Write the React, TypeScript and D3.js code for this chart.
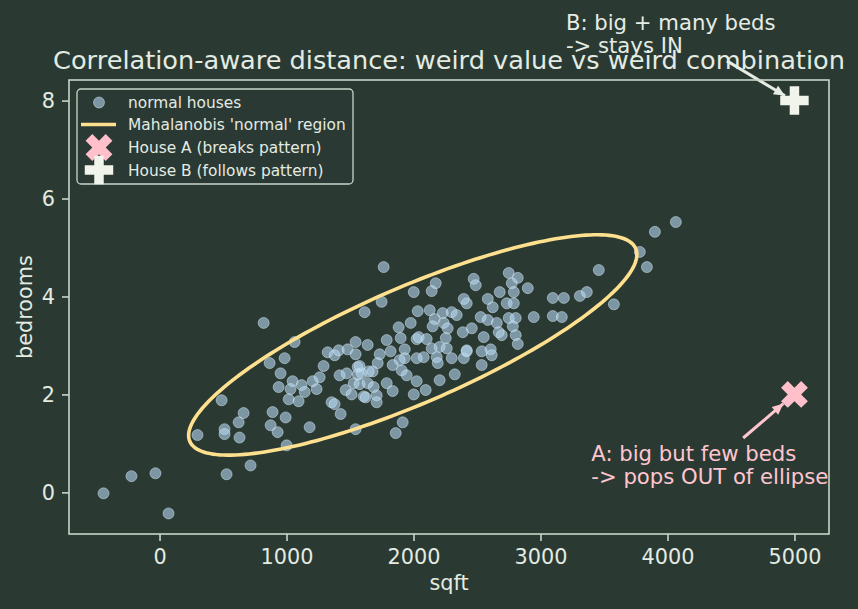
import { useEffect, useRef } from "react";
import * as d3 from "d3";

// normal houses: [sqft, bedrooms]
const normalHouses: [number, number][] = [
  [-441, -0.02], [-221, 0.33], [-32, 0.39], [71, -0.43], [528, 0.37], [717, 0.55], [299, 1.17], [489, 1.88],
  [512, 1.29], [512, 1.19], [630, 1.12], [623, 1.43], [662, 1.62], [820, 3.46], [867, 2.64], [985, 2.74],
  [953, 2.43], [938, 2.15], [1048, 2.27], [1032, 2.11], [1119, 2.19], [1143, 2.05], [1017, 1.9], [1095, 1.86],
  [1237, 2.11], [1206, 2.27], [1261, 2.35], [1292, 2.58], [1324, 2.86], [1064, 3.07], [890, 1.64], [993, 1.53],
  [875, 1.37], [930, 1.23], [1182, 1.33], [1001, 0.96], [1379, 2.8], [1411, 2.9], [1481, 2.92], [1544, 3.07],
  [1544, 2.82], [1615, 3.68], [1639, 3.01], [1418, 2.39], [1474, 2.43], [1560, 2.56], [1592, 2.43], [1529, 2.23],
  [1576, 2.21], [1466, 2.09], [1513, 2.0], [1608, 1.96], [1355, 1.84], [1379, 1.8], [1426, 1.6], [1544, 1.29],
  [1749, 3.89], [1765, 4.6], [2033, 3.7], [2128, 3.72], [2230, 3.66], [2301, 3.68], [2340, 3.62], [2167, 3.54],
  [2238, 3.46], [2269, 3.35], [2151, 3.39], [2388, 3.27], [2419, 3.86], [1883, 3.37], [1978, 3.46], [2025, 3.13],
  [2041, 3.17], [1899, 3.15], [1789, 3.11], [1734, 2.82], [1820, 2.88], [1931, 2.92], [2104, 3.13], [2143, 2.94],
  [2206, 2.97], [2254, 3.15], [2262, 2.94], [2183, 2.76], [2191, 2.64], [2301, 2.74], [2396, 2.74], [2419, 2.9],
  [2080, 2.76], [2025, 2.74], [1931, 2.74], [1891, 2.7], [1836, 2.6], [1907, 2.49], [1946, 2.39], [2025, 2.27],
  [2096, 2.09], [2002, 2.0], [2206, 2.29], [2325, 2.41], [1718, 2.64], [1678, 2.47], [1647, 2.47], [1576, 2.58],
  [1560, 2.41], [1639, 2.23], [1686, 2.15], [1789, 2.23], [1836, 2.07], [1710, 1.98], [1710, 1.84], [1623, 1.94],
  [1915, 1.43], [1860, 1.21], [2002, 4.09], [2175, 4.27], [2143, 4.11], [2474, 4.36], [2490, 4.23], [2396, 3.95],
  [2750, 4.48], [2821, 4.38], [2774, 4.27], [2790, 4.09], [2679, 4.09], [2585, 3.95], [2734, 3.86], [2790, 3.86],
  [2624, 3.78], [2529, 3.58], [2585, 3.52], [2656, 3.46], [2750, 3.56], [2805, 3.56], [2782, 3.39], [2805, 3.21],
  [2821, 3.03], [2695, 3.21], [2671, 3.27], [2459, 3.35], [2553, 3.17], [2537, 2.88], [2608, 2.92], [2616, 2.8],
  [2537, 2.6], [2419, 2.88], [2900, 4.17], [2947, 3.58], [3097, 3.97], [3184, 3.97], [3097, 3.6], [3168, 3.58],
  [3310, 4.01], [3365, 4.09], [3459, 4.54], [3578, 3.84], [3782, 4.91], [3838, 4.6], [3901, 5.32], [4066, 5.52],
];

const houseA: [number, number] = [5000, 2];
const houseB: [number, number] = [5000, 8];

// Mahalanobis ellipse: mean, std devs, correlation, radius (sqrt chi2 95%)
const ellipseMean: [number, number] = [1994, 3.01];
const ellipseStd: [number, number] = [721, 0.919];
const ellipseRho = 0.821;
const ellipseK = 2.448;

const xTicks = [0, 1000, 2000, 3000, 4000, 5000];
const yTicks = [0, 2, 4, 6, 8];

const legendLabels = [
  "normal houses",
  "Mahalanobis 'normal' region",
  "House A (breaks pattern)",
  "House B (follows pattern)",
];

const annotations = [
  {
    lines: ["B: big + many beds", "-> stays IN"],
    textAt: [3200, 9.45],
    from: [4468, 8.81],
    to: [4925, 8.1],
    color: "#e6ece4",
  },
  {
    lines: ["A: big but few beds", "-> pops OUT of ellipse"],
    textAt: [3400, 0.65],
    from: [4596, 1.11],
    to: [4912, 1.81],
    color: "#ffc6d0",
  },
];

const BG = "#2a3a33";
const FG = "#e4ebe2";
const SPINE = "#c9d5c9";
const PINK = "#ffc0cb";
const IVORY = "#f1f4ea";
const YELLOW = "#ffe08f";
const FONT = "DejaVu Sans, sans-serif";

export default function App() {
  const svgRef = useRef<SVGSVGElement | null>(null);

  useEffect(() => {
    document.body.style.margin = "0";
    if (!svgRef.current) return;
    const svg = d3.select(svgRef.current);
    svg.selectAll("*").remove();

    const width = 858;
    const height = 609;
    const margin = { top: 80, right: 29, bottom: 75, left: 69 };

    svg.attr("width", width).attr("height", height).style("display", "block");
    svg.append("rect").attr("width", width).attr("height", height).attr("fill", BG);

    const xScale = d3.scaleLinear().domain([-713, 5272]).range([margin.left, width - margin.right]);
    const yScale = d3.scaleLinear().domain([-0.85, 8.42]).range([height - margin.bottom, margin.top]);

    // x axis
    const xAxis = svg
      .append("g")
      .attr("transform", `translate(0, ${height - margin.bottom})`)
      .call(d3.axisBottom(xScale).tickValues(xTicks).tickFormat(d3.format("d")).tickSize(7).tickPadding(8));
    xAxis.select(".domain").remove();
    xAxis.selectAll("line").attr("stroke", SPINE).attr("stroke-width", 1.6);
    xAxis.selectAll("text").attr("fill", FG).style("font-size", "20.8px").style("font-family", FONT);

    // y axis
    const yAxis = svg
      .append("g")
      .attr("transform", `translate(${margin.left}, 0)`)
      .call(d3.axisLeft(yScale).tickValues(yTicks).tickSize(7).tickPadding(7));
    yAxis.select(".domain").remove();
    yAxis.selectAll("line").attr("stroke", SPINE).attr("stroke-width", 1.6);
    yAxis.selectAll("text").attr("fill", FG).style("font-size", "20.8px").style("font-family", FONT);

    // axis labels + title
    svg
      .append("text")
      .attr("x", (margin.left + width - margin.right) / 2)
      .attr("y", 590)
      .attr("text-anchor", "middle")
      .attr("fill", FG)
      .style("font-family", FONT)
      .style("font-size", "20.8px")
      .text("sqft");

    svg
      .append("text")
      .attr("transform", "rotate(-90)")
      .attr("x", -(margin.top + height - margin.bottom) / 2)
      .attr("y", 32)
      .attr("text-anchor", "middle")
      .attr("fill", FG)
      .style("font-family", FONT)
      .style("font-size", "20.8px")
      .text("bedrooms");

    svg
      .append("text")
      .attr("x", (margin.left + width - margin.right) / 2)
      .attr("y", 69)
      .attr("text-anchor", "middle")
      .attr("fill", FG)
      .style("font-family", FONT)
      .style("font-size", "25.6px")
      .text("Correlation-aware distance: weird value vs weird combination");

    // scatter
    svg
      .append("g")
      .selectAll("circle")
      .data(normalHouses)
      .enter()
      .append("circle")
      .attr("cx", (d) => xScale(d[0]))
      .attr("cy", (d) => yScale(d[1]))
      .attr("r", 5.5)
      .attr("fill", "#b4d6ee")
      .attr("fill-opacity", 0.6)
      .attr("stroke", "#e3f1ff")
      .attr("stroke-opacity", 0.45)
      .attr("stroke-width", 1);

    // ellipse from covariance (cholesky)
    const sxx = (ellipseK * ellipseStd[0]) ** 2;
    const syy = (ellipseK * ellipseStd[1]) ** 2;
    const sxy = ellipseK * ellipseK * ellipseRho * ellipseStd[0] * ellipseStd[1];
    const l11 = Math.sqrt(sxx);
    const l21 = sxy / l11;
    const l22 = Math.sqrt(syy - l21 * l21);
    const ellipsePts = d3.range(0, 201).map((i) => {
      const t = (i / 200) * 2 * Math.PI;
      const c = Math.cos(t);
      const s = Math.sin(t);
      return [ellipseMean[0] + l11 * c, ellipseMean[1] + l21 * c + l22 * s] as [number, number];
    });
    svg
      .append("path")
      .datum(ellipsePts)
      .attr("fill", "none")
      .attr("stroke", YELLOW)
      .attr("stroke-width", 3.6)
      .attr(
        "d",
        d3
          .line<[number, number]>()
          .x((d) => xScale(d[0]))
          .y((d) => yScale(d[1]))
          .curve(d3.curveLinearClosed)
      );

    // annotations (arrows + text)
    annotations.forEach((a) => {
      const x1 = xScale(a.from[0]);
      const y1 = yScale(a.from[1]);
      const x2 = xScale(a.to[0]);
      const y2 = yScale(a.to[1]);
      svg
        .append("line")
        .attr("x1", x1)
        .attr("y1", y1)
        .attr("x2", x2)
        .attr("y2", y2)
        .attr("stroke", a.color)
        .attr("stroke-width", 3);
      const ang = Math.atan2(y2 - y1, x2 - x1);
      const hl = 11;
      const hw = 5;
      const bx = x2 - hl * Math.cos(ang);
      const by = y2 - hl * Math.sin(ang);
      svg
        .append("path")
        .attr(
          "d",
          `M${x2},${y2}L${bx - hw * Math.sin(ang)},${by + hw * Math.cos(ang)}L${bx + hw * Math.sin(ang)},${by - hw * Math.cos(ang)}Z`
        )
        .attr("fill", a.color);
      const t = svg
        .append("text")
        .attr("x", xScale(a.textAt[0]))
        .attr("y", yScale(a.textAt[1]))
        .attr("fill", a.color)
        .style("font-family", FONT)
        .style("font-size", "21.2px");
      a.lines.forEach((ln, i) => {
        t.append("tspan")
          .attr("x", xScale(a.textAt[0]))
          .attr("dy", i === 0 ? 0 : 23)
          .text(ln);
      });
    });

    // special houses
    const crossPath = d3.symbol().type(d3.symbolCross).size(450)();
    svg
      .append("path")
      .attr("d", crossPath)
      .attr("transform", `translate(${xScale(houseA[0])},${yScale(houseA[1])}) rotate(45)`)
      .attr("fill", PINK);
    svg
      .append("path")
      .attr("d", crossPath)
      .attr("transform", `translate(${xScale(houseB[0])},${yScale(houseB[1])})`)
      .attr("fill", IVORY);

    // frame
    svg
      .append("rect")
      .attr("x", margin.left)
      .attr("y", margin.top)
      .attr("width", width - margin.left - margin.right)
      .attr("height", height - margin.top - margin.bottom)
      .attr("fill", "none")
      .attr("stroke", SPINE)
      .attr("stroke-width", 1.6);

    // legend
    const lg = svg.append("g");
    lg.append("rect")
      .attr("x", 77)
      .attr("y", 89)
      .attr("width", 276)
      .attr("height", 95)
      .attr("rx", 4)
      .attr("fill", BG)
      .attr("fill-opacity", 0.8)
      .attr("stroke", SPINE)
      .attr("stroke-width", 1.3);
    const rowY = [102.5, 124.5, 147.5, 170];
    const mx = 99;
    lg.append("circle")
      .attr("cx", mx)
      .attr("cy", rowY[0])
      .attr("r", 5.5)
      .attr("fill", "#b4d6ee")
      .attr("fill-opacity", 0.6)
      .attr("stroke", "#e3f1ff")
      .attr("stroke-opacity", 0.45);
    lg.append("line")
      .attr("x1", 81)
      .attr("x2", 116)
      .attr("y1", rowY[1])
      .attr("y2", rowY[1])
      .attr("stroke", YELLOW)
      .attr("stroke-width", 3.6);
    lg.append("path")
      .attr("d", crossPath)
      .attr("transform", `translate(${mx},${rowY[2]}) rotate(45)`)
      .attr("fill", PINK);
    lg.append("path")
      .attr("d", crossPath)
      .attr("transform", `translate(${mx},${rowY[3]})`)
      .attr("fill", IVORY);
    lg.selectAll("text.lbl")
      .data(legendLabels)
      .enter()
      .append("text")
      .attr("class", "lbl")
      .attr("x", 128)
      .attr("y", (_, i) => rowY[i])
      .attr("dy", "0.36em")
      .attr("fill", FG)
      .style("font-family", FONT)
      .style("font-size", "15.4px")
      .text((d) => d);
  }, []);

  return <svg ref={svgRef}></svg>;
}
